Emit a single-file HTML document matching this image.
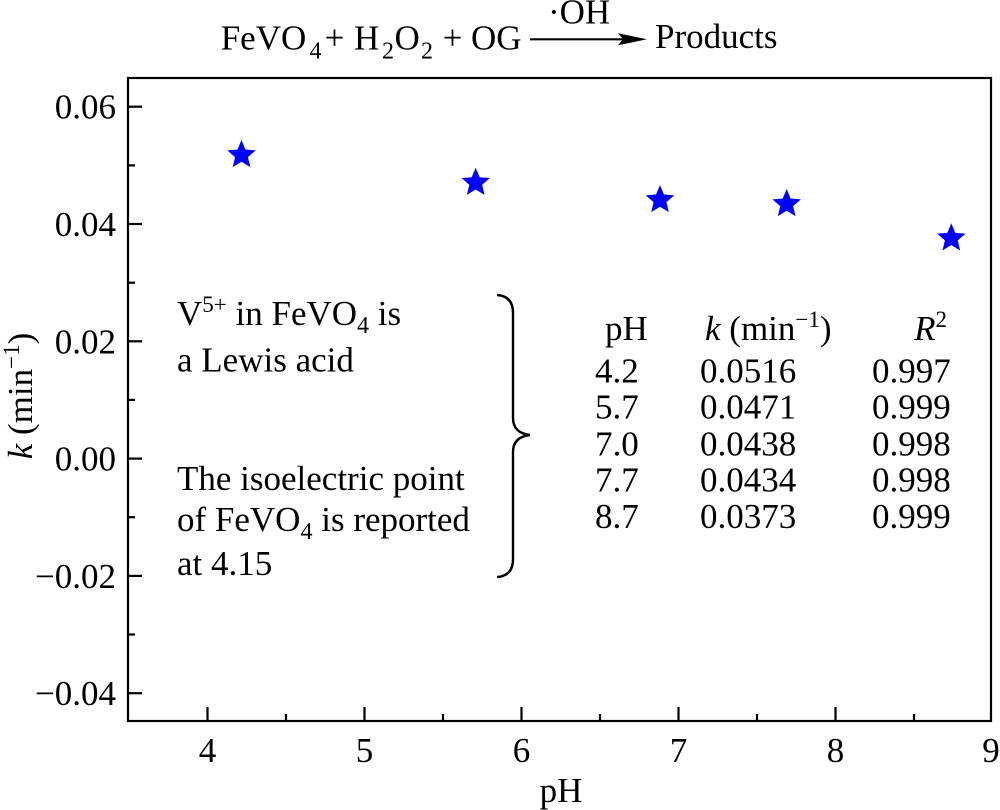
<!DOCTYPE html>
<html>
<head>
<meta charset="utf-8">
<style>
html,body{margin:0;padding:0;background:#fff;}
svg{display:block;}
text{font-family:"Liberation Serif","Times New Roman",serif;fill:#000;}
</style>
</head>
<body>
<svg width="1000" height="810" viewBox="0 0 1000 810" xmlns="http://www.w3.org/2000/svg" font-family="Liberation Serif, Times New Roman, serif">
  <!-- Title -->
  <g font-size="35">
    <text x="220.7" y="49.5">FeVO</text>
    <text x="309.5" y="58.5" font-size="24">4</text>
    <text x="334.5" y="49.5" text-anchor="middle">+</text>
    <text x="354" y="49.5">H</text>
    <text x="382" y="58.5" font-size="24">2</text>
    <text x="394.5" y="49.5">O</text>
    <text x="421" y="58.5" font-size="24">2</text>
    <text x="452.5" y="49.5" text-anchor="middle">+</text>
    <text x="471" y="49.5">OG</text>
    <text x="548" y="23.5">·OH</text>
    <text x="655" y="48">Products</text>
  </g>
  <line x1="530" y1="39.3" x2="628" y2="39.3" stroke="#000" stroke-width="2.2"/>
  <polygon points="647,39.3 618,33.3 623,39.3 618,45.3" fill="#000"/>

  <!-- Frame -->
  <rect x="128" y="78" width="863" height="643" fill="none" stroke="#000" stroke-width="2.2"/>

  <!-- Y ticks -->
  <g stroke="#000" stroke-width="2.2">
    <line x1="128" y1="106.7" x2="142" y2="106.7"/>
    <line x1="128" y1="165.4" x2="135" y2="165.4"/>
    <line x1="128" y1="224.0" x2="142" y2="224.0"/>
    <line x1="128" y1="282.7" x2="135" y2="282.7"/>
    <line x1="128" y1="341.3" x2="142" y2="341.3"/>
    <line x1="128" y1="399.9" x2="135" y2="399.9"/>
    <line x1="128" y1="458.6" x2="142" y2="458.6"/>
    <line x1="128" y1="517.2" x2="135" y2="517.2"/>
    <line x1="128" y1="575.9" x2="142" y2="575.9"/>
    <line x1="128" y1="634.5" x2="135" y2="634.5"/>
    <line x1="128" y1="693.2" x2="142" y2="693.2"/>
    <!-- X ticks -->
    <line x1="207.5" y1="721" x2="207.5" y2="707"/>
    <line x1="286" y1="721" x2="286" y2="714"/>
    <line x1="364.5" y1="721" x2="364.5" y2="707"/>
    <line x1="443" y1="721" x2="443" y2="714"/>
    <line x1="521.5" y1="721" x2="521.5" y2="707"/>
    <line x1="600" y1="721" x2="600" y2="714"/>
    <line x1="678.5" y1="721" x2="678.5" y2="707"/>
    <line x1="757" y1="721" x2="757" y2="714"/>
    <line x1="835.5" y1="721" x2="835.5" y2="707"/>
    <line x1="914" y1="721" x2="914" y2="714"/>
  </g>

  <!-- Y tick labels -->
  <g font-size="35" text-anchor="end">
    <text x="116" y="118.7">0.06</text>
    <text x="116" y="236.0">0.04</text>
    <text x="116" y="353.3">0.02</text>
    <text x="116" y="470.6">0.00</text>
    <text x="116" y="587.9">−0.02</text>
    <text x="116" y="705.2">−0.04</text>
  </g>
  <!-- X tick labels -->
  <g font-size="35" text-anchor="middle">
    <text x="207.5" y="762">4</text>
    <text x="364.5" y="762">5</text>
    <text x="521.5" y="762">6</text>
    <text x="678.5" y="762">7</text>
    <text x="835.5" y="762">8</text>
    <text x="991" y="762">9</text>
  </g>

  <!-- Axis labels -->
  <text x="561" y="802" font-size="35" text-anchor="middle">pH</text>
  <text transform="translate(32,396) rotate(-90)" font-size="35" text-anchor="middle"><tspan font-style="italic">k</tspan> (min<tspan font-size="23" dy="-13">−1</tspan><tspan dy="13">)</tspan></text>

  <!-- Stars -->
  <defs>
    <polygon id="star" points="0,-15 3.97,-5.46 14.27,-4.64 6.42,2.09 8.82,12.14 0,6.75 -8.82,12.14 -6.42,2.09 -14.27,-4.64 -3.97,-5.46" fill="#0000ff"/>
  </defs>
  <use href="#star" x="241.5" y="155"/>
  <use href="#star" x="475.7" y="182.7"/>
  <use href="#star" x="660" y="200"/>
  <use href="#star" x="786.7" y="204"/>
  <use href="#star" x="951.3" y="238.3"/>

  <!-- Left annotation -->
  <g font-size="35">
    <text x="177" y="325">V<tspan font-size="23" dy="-13">5+</tspan><tspan dy="13"> in FeVO</tspan><tspan font-size="24" dy="8">4</tspan><tspan dy="-8"> is</tspan></text>
    <text x="177" y="371.5">a Lewis acid</text>
    <text x="177" y="490">The isoelectric point</text>
    <text x="177" y="531">of FeVO<tspan font-size="24" dy="8">4</tspan><tspan dy="-8"> is reported</tspan></text>
    <text x="177" y="575">at 4.15</text>
  </g>

  <!-- Brace -->
  <path d="M497,295 Q513,296 513,313 L513,418 Q513,433 530,435 Q513,437 513,452 L513,559 Q513,576 497,577" fill="none" stroke="#000" stroke-width="2.4"/>

  <!-- Table -->
  <g font-size="35">
    <text x="605" y="340">pH</text>
    <text x="705" y="340"><tspan font-style="italic">k</tspan> (min<tspan font-size="23" dy="-13">−1</tspan><tspan dy="13">)</tspan></text>
    <text x="947" y="340" text-anchor="end"><tspan font-style="italic">R</tspan><tspan font-size="23" dy="-13">2</tspan></text>

    <text x="595" y="382.5">4.2</text>
    <text x="700" y="382.5">0.0516</text>
    <text x="872" y="382.5">0.997</text>

    <text x="595" y="418.5">5.7</text>
    <text x="700" y="418.5">0.0471</text>
    <text x="872" y="418.5">0.999</text>

    <text x="595" y="455.5">7.0</text>
    <text x="700" y="455.5">0.0438</text>
    <text x="872" y="455.5">0.998</text>

    <text x="595" y="491.5">7.7</text>
    <text x="700" y="491.5">0.0434</text>
    <text x="872" y="491.5">0.998</text>

    <text x="595" y="528">8.7</text>
    <text x="700" y="528">0.0373</text>
    <text x="872" y="528">0.999</text>
  </g>
</svg>
</body>
</html>
